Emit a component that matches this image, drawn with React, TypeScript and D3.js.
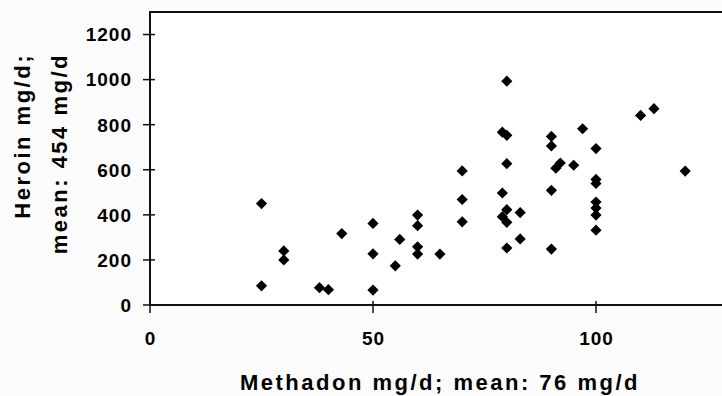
import { useEffect, useRef } from 'react';
import * as d3 from 'd3';

// methadone dose (mg/d) per patient
const methadon = [
  25, 25, 30, 30, 38, 40, 43, 50, 50, 50,
  55, 56, 60, 60, 60, 60, 65, 70, 70, 70,
  80, 79, 80, 80, 79, 80, 79, 80, 83, 83,
  80, 90, 90, 90, 90, 92, 91, 95, 97, 100,
  100, 100, 100, 100, 100, 100, 110, 113, 120
];
// heroin dose (mg/d) per patient, same order
const heroin = [
  450, 85, 240, 200, 77, 68, 317, 362, 227, 66,
  174, 291, 399, 352, 258, 226, 226, 595, 468, 369,
  993, 767, 753, 627, 497, 423, 392, 367, 410, 293,
  253, 748, 706, 509, 248, 630, 607, 620, 782, 694,
  557, 539, 457, 430, 399, 332, 841, 871, 594
];

const xTicks = [0, 50, 100];
const yTicks = [0, 200, 400, 600, 800, 1000, 1200];

const xTitle = 'Methadon mg/d; mean: 76 mg/d';
const yTitle = ['Heroin mg/d;', 'mean: 454 mg/d'];

export default function App() {
  const svgRef = useRef<SVGSVGElement>(null);

  useEffect(() => {
    const width = 722;
    const height = 396;
    const svg = d3.select(svgRef.current);
    svg.selectAll('*').remove();
    svg.attr('width', width).attr('height', height);

    const left = 150, top = 12, bottom = 305;
    const font = '"Liberation Sans", Arial, sans-serif';

    const x = d3.scaleLinear().domain([0, 100]).range([left, 596]);
    const y = d3.scaleLinear().domain([0, 1300]).range([bottom, top]);

    svg.append('rect')
      .attr('width', width).attr('height', height)
      .attr('fill', '#fcfcfc');
    svg.append('rect')
      .attr('x', left).attr('y', top)
      .attr('width', width - left).attr('height', bottom - top)
      .attr('fill', '#ffffff');

    // points (diamonds)
    const r = 5.6;
    const diamond = `M0,${-r}L${r},0L0,${r}L${-r},0Z`;
    svg.append('g')
      .selectAll('path')
      .data(d3.range(methadon.length))
      .enter().append('path')
      .attr('d', diamond)
      .attr('transform', i => `translate(${x(methadon[i])},${y(heroin[i])})`)
      .attr('fill', '#000');

    // frame: top line, left axis, bottom axis
    const axisColor = '#111';
    svg.append('path')
      .attr('d', `M${left},${bottom}V${top}H${width}`)
      .attr('fill', 'none')
      .attr('stroke', axisColor)
      .attr('stroke-width', 2);
    svg.append('line')
      .attr('x1', left).attr('x2', width)
      .attr('y1', bottom).attr('y2', bottom)
      .attr('stroke', axisColor)
      .attr('stroke-width', 2);

    // y ticks
    const yg = svg.append('g');
    yg.selectAll('line')
      .data(yTicks)
      .enter().append('line')
      .attr('x1', left - 7).attr('x2', left + 5)
      .attr('y1', d => y(d)).attr('y2', d => y(d))
      .attr('stroke', axisColor)
      .attr('stroke-width', 1.5);
    yg.selectAll('text')
      .data(yTicks)
      .enter().append('text')
      .attr('x', 132)
      .attr('y', d => y(d))
      .attr('dy', '0.36em')
      .attr('text-anchor', 'end')
      .style('font-family', font)
      .style('font-weight', 'bold')
      .style('font-size', '19px')
      .style('letter-spacing', '1px')
      .style('fill', '#000')
      .text(d => d);

    // x ticks
    const xg = svg.append('g');
    xg.selectAll('line')
      .data(xTicks)
      .enter().append('line')
      .attr('x1', d => x(d)).attr('x2', d => x(d))
      .attr('y1', bottom - 4).attr('y2', bottom + 8)
      .attr('stroke', axisColor)
      .attr('stroke-width', 1.5);
    xg.selectAll('text')
      .data(xTicks)
      .enter().append('text')
      .attr('x', d => x(d) + 0.5)
      .attr('y', 345)
      .attr('text-anchor', 'middle')
      .style('font-family', font)
      .style('font-weight', 'bold')
      .style('font-size', '19px')
      .style('letter-spacing', '1px')
      .style('fill', '#000')
      .text(d => d);

    // axis titles
    svg.append('text')
      .attr('x', 440)
      .attr('y', 390)
      .attr('text-anchor', 'middle')
      .style('font-family', font)
      .style('font-weight', 'bold')
      .style('font-size', '22px')
      .style('letter-spacing', '2.5px')
      .style('fill', '#000')
      .text(xTitle);

    svg.append('g')
      .selectAll('text')
      .data(yTitle)
      .enter().append('text')
      .attr('transform', (d, i) => `translate(${i === 0 ? 30 : 67},53) rotate(-90)`)
      .attr('text-anchor', 'end')
      .style('font-family', font)
      .style('font-weight', 'bold')
      .style('font-size', '22px')
      .style('letter-spacing', '2.5px')
      .style('fill', '#000')
      .text(d => d);
  }, []);

  return (
    <div style={{ position: 'absolute', left: 0, top: 0 }}>
      <svg ref={svgRef} style={{ display: 'block' }}></svg>
    </div>
  );
}
